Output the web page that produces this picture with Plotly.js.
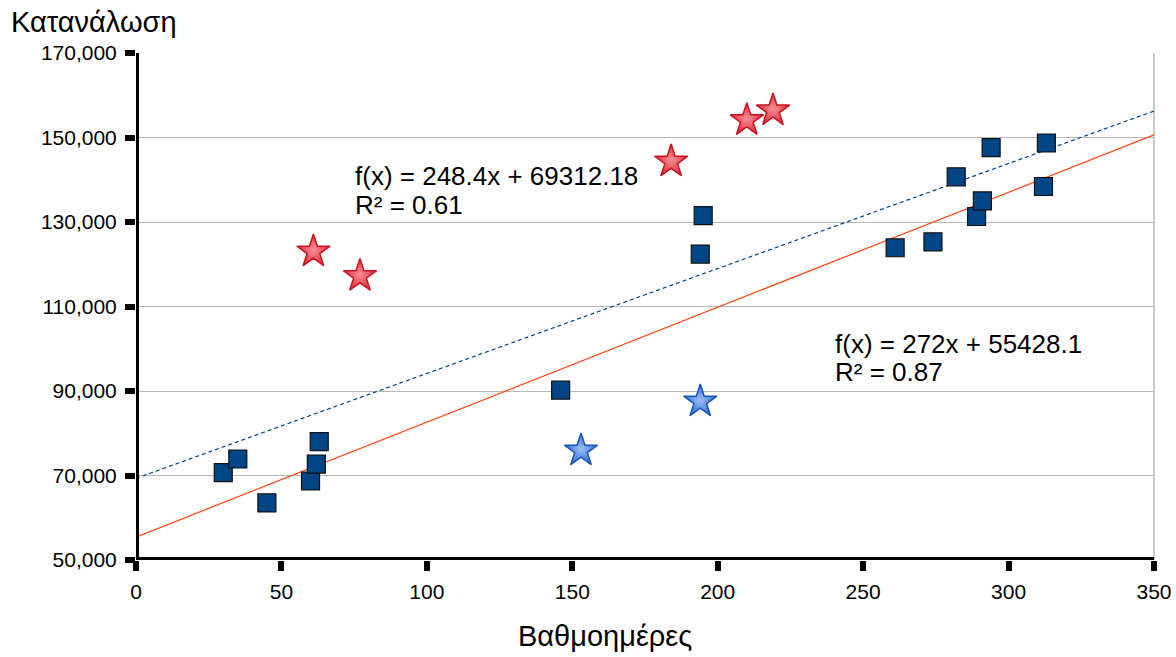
<!DOCTYPE html>
<html>
<head>
<meta charset="utf-8">
<script src="https://cdn.plot.ly/plotly-3.0.1.min.js"></script>
<style>html,body{margin:0;padding:0;background:#fff;}#chart{width:1176px;height:657px;}</style>
</head>
<body>
<div id="chart"></div>
<script>
// Squares (main series)
var degreeDays = [30, 35, 45, 60, 62, 63, 146, 194, 195, 261, 274, 282, 289, 291, 294, 312, 313];
var consumption = [70700, 73900, 63500, 68700, 72700, 78000, 90200, 122400, 131500, 123900, 125300, 140700, 131300, 135000, 147600, 138400, 148700];
// Red stars
var redStarX = [61, 77, 184, 210, 219];
var redStarY = [123000, 117200, 144300, 154100, 156400];
// Blue stars
var blueStarX = [153, 194];
var blueStarY = [75900, 87500];
// Trend lines
var trendSlopes = [272, 248.4];
var trendIntercepts = [55428.1, 69312.18];
var trendR2 = ['0.87', '0.61'];
var xRange = [0, 350];
var yTicks = [50000, 70000, 90000, 110000, 130000, 150000, 170000];
var xTicks = [0, 50, 100, 150, 200, 250, 300, 350];

var FONT = 'Liberation Sans, Arial, sans-serif';

function lineY(i) { return xRange.map(function (x) { return trendSlopes[i] * x + trendIntercepts[i]; }); }

var traces = [
  {x: xRange, y: lineY(1), mode: 'lines', line: {color: '#004586', width: 1.2, dash: '4px,3px'}, hoverinfo: 'skip', showlegend: false},
  {x: xRange, y: lineY(0), mode: 'lines', line: {color: '#ff420e', width: 1.2}, hoverinfo: 'skip', showlegend: false},
  {x: degreeDays, y: consumption, mode: 'markers', marker: {symbol: 'square', size: 18, color: '#004586', line: {color: '#111', width: 1.2}}, showlegend: false},
  {x: redStarX, y: redStarY, mode: 'markers', marker: {symbol: 'star', size: 25, color: '#e52a35', line: {color: '#c81420', width: 1.5}, gradient: {type: 'radial', color: '#f49098'}}, showlegend: false},
  {x: blueStarX, y: blueStarY, mode: 'markers', marker: {symbol: 'star', size: 25, color: '#2a6fd4', line: {color: '#1a55b8', width: 1.5}, gradient: {type: 'radial', color: '#9cc0f0'}}, showlegend: false}
];

function eqLine(i) { return 'f(x) = ' + trendSlopes[i] + 'x + ' + trendIntercepts[i]; }
function r2Line(i) { return 'R² = ' + trendR2[i]; }

function txt(text, px, py, size) {
  return {text: text, xref: 'paper', yref: 'paper', x: (px - 136) / 1018, y: 1, xanchor: 'left', yanchor: 'middle',
          yshift: 53 - py, showarrow: false, align: 'left', font: {family: FONT, size: size, color: '#000'}};
}

var layout = {
  width: 1176, height: 657,
  margin: {l: 136, r: 22, t: 53, b: 97},
  paper_bgcolor: '#fff', plot_bgcolor: '#fff',
  font: {family: FONT, size: 21, color: '#000'},
  xaxis: {
    range: xRange, tickvals: xTicks, showgrid: false, zeroline: false, showline: false,
    ticks: 'outside', ticklen: 10, tickwidth: 6, tickcolor: '#000',
    tickfont: {family: FONT, size: 21, color: '#000'}, ticklabelstandoff: 3
  },
  yaxis: {
    range: [yTicks[0], yTicks[yTicks.length - 1]], tickvals: yTicks, tickformat: ',.0f',
    showgrid: true, gridcolor: '#b8b8b8', gridwidth: 1, zeroline: false, showline: false,
    ticks: 'outside', ticklen: 10, tickwidth: 6, tickcolor: '#000',
    tickfont: {family: FONT, size: 21, color: '#000'}, ticklabelstandoff: 4
  },
  shapes: [
    {type: 'line', xref: 'x domain', yref: 'y domain', x0: 1, x1: 1, y0: 0, y1: 1, line: {color: '#b8b8b8', width: 1.5}, layer: 'below'},
    {type: 'line', xref: 'x domain', yref: 'y', x0: 0, x1: 1, y0: yTicks[0], y1: yTicks[0], line: {color: '#000', width: 6}, layer: 'above'},
    {type: 'line', xref: 'x', yref: 'y domain', x0: xRange[0], x1: xRange[0], y0: 0, y1: 1, line: {color: '#000', width: 6}, layer: 'above'}
  ],
  annotations: [
    txt('Κατανάλωση', 9, 22, 29),
    {text: 'Βαθμοημέρες', xref: 'paper', yref: 'paper', x: (605 - 136) / 1018, y: 0, xanchor: 'center', yanchor: 'middle', yshift: -76, showarrow: false, font: {family: FONT, size: 29, color: '#000'}},
    txt(eqLine(1), 353, 176, 26),
    txt(r2Line(1), 353, 205, 26),
    txt(eqLine(0), 833, 344, 26),
    txt(r2Line(0), 833, 372, 26)
  ]
};

Plotly.newPlot('chart', traces, layout, {staticPlot: true, displayModeBar: false});
</script>
</body>
</html>
